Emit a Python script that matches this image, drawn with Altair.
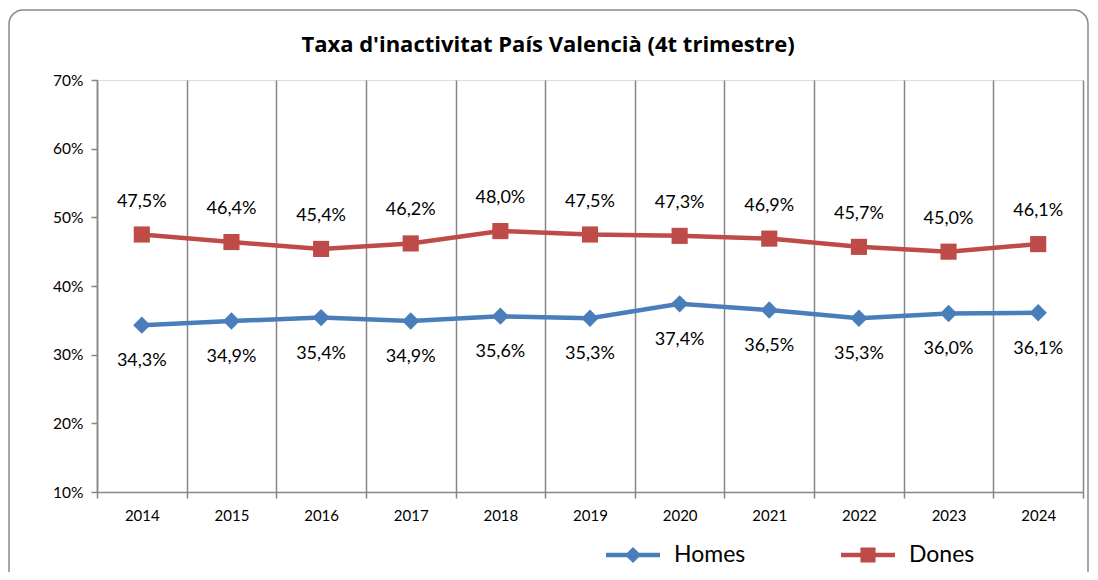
import altair as alt
import pandas as pd

years = ["2014", "2015", "2016", "2017", "2018", "2019", "2020", "2021", "2022", "2023", "2024"]
homes = [34.3, 34.9, 35.4, 34.9, 35.6, 35.3, 37.4, 36.5, 35.3, 36.0, 36.1]
dones = [47.5, 46.4, 45.4, 46.2, 48.0, 47.5, 47.3, 46.9, 45.7, 45.0, 46.1]
series = ["Homes", "Dones"]
colors = ["#4a7ebb", "#be4b48"]
y_ticks = [10, 20, 30, 40, 50, 60, 70]
title_text = "Taxa d'inactivitat País Valencià (4t trimestre)"

rows = []
for yr, h, d in zip(years, homes, dones):
    rows.append({"year": yr, "serie": "Homes", "value": h})
    rows.append({"year": yr, "serie": "Dones", "value": d})
df = pd.DataFrame(rows)

W, H = 986, 412
GRID = "#868686"
FONT = "Lato"

x_enc = alt.X(
    "year:N", sort=years,
    scale=alt.Scale(type="band", domain=years, paddingInner=0, paddingOuter=0),
    axis=alt.Axis(title=None, tickBand="extent", grid=True, gridColor=GRID, gridWidth=1.5,
                  domainColor=GRID, domainWidth=1.5, tickColor=GRID, tickWidth=1.5, tickSize=6,
                  labelAngle=0, labelFont=FONT, labelFontSize=15, labelColor="black", labelPadding=10),
)
y_enc = alt.Y(
    "value:Q",
    scale=alt.Scale(domain=[10, 70], nice=False, zero=False),
    axis=alt.Axis(title=None, values=y_ticks, grid=False, labelExpr="datum.value + '%'",
                  domainColor=GRID, domainWidth=1.5, tickColor=GRID, tickWidth=1.5, tickSize=6,
                  labelFont=FONT, labelFontSize=15.5, labelColor="black", labelPadding=8),
)
color_scale = alt.Scale(domain=series, range=colors)

base = alt.Chart(df)

# legend glyphs: a short line with the series marker on it
path_h = ("M-1,-0.08L1,-0.08L1,0.08L-1,0.08Z "
          "M0,-0.3L0.3,0L0,0.3L-0.3,0Z")
path_d = ("M-1,-0.08L1,-0.08L1,0.08L-1,0.08Z "
          "M-0.28,-0.28L0.28,-0.28L0.28,0.28L-0.28,0.28Z")

legend_props = dict(
    title=None, orient="none", direction="horizontal", legendX=509, legendY=448,
    symbolSize=2916, symbolStrokeWidth=0, symbolOpacity=1, labelFont=FONT, labelFontSize=23,
    labelColor="black", labelOffset=14, columnPadding=95,
)

line = base.mark_line(strokeWidth=4.5).encode(
    x=x_enc, y=y_enc, color=alt.Color("serie:N", scale=color_scale, legend=None)
)

points = base.mark_point(filled=True, opacity=1, strokeWidth=0).encode(
    x=x_enc, y=y_enc,
    color=alt.Color("serie:N", scale=color_scale, legend=None),
    shape=alt.Shape("serie:N", scale=alt.Scale(domain=series, range=["diamond", "square"]), legend=None),
    size=alt.Size("serie:N", scale=alt.Scale(domain=series, range=[300, 260]), legend=None),
)

legend_layer = base.mark_point(filled=True, opacity=0).encode(
    x=x_enc, y=y_enc,
    color=alt.Color("serie:N", scale=color_scale, sort=series, legend=alt.Legend(**legend_props)),
    shape=alt.Shape("serie:N", sort=series, scale=alt.Scale(domain=series, range=[path_h, path_d]),
                    legend=alt.Legend(**legend_props)),
)

label_calc = "replace(format(datum.value, '.1f'), '.', ',') + '%'"
text_d = base.transform_filter("datum.serie === 'Dones'").transform_calculate(lbl=label_calc).mark_text(
    dy=-33, font=FONT, fontSize=18, color="black"
).encode(x=x_enc, y=y_enc, text="lbl:N")
text_h = base.transform_filter("datum.serie === 'Homes'").transform_calculate(lbl=label_calc).mark_text(
    dy=36, font=FONT, fontSize=18, color="black"
).encode(x=x_enc, y=y_enc, text="lbl:N")

frame = alt.Chart(pd.DataFrame({"a": [0]})).mark_rect(
    fillOpacity=0, stroke="#8a8a8a", strokeWidth=1.5, cornerRadius=14
).encode(x=alt.value(-88), x2=alt.value(991), y=alt.value(-70), y2=alt.value(520))

chart = alt.layer(frame, line, points, legend_layer, text_d, text_h).resolve_scale(
    shape="independent", color="independent"
).properties(
    width=W, height=H,
    title=alt.TitleParams(title_text, font="Open Sans", fontSize=22, fontWeight="bold", color="black",
                          anchor="middle", dx=-42, offset=-65, baseline="alphabetic"),
    autosize=alt.AutoSizeParams(type="none"),
    padding={"left": 89, "top": 72, "right": 7, "bottom": 80},
).configure_view(stroke=None).configure(background="white")

chart.save("out.html", embed_options={"renderer": "svg", "actions": False})
